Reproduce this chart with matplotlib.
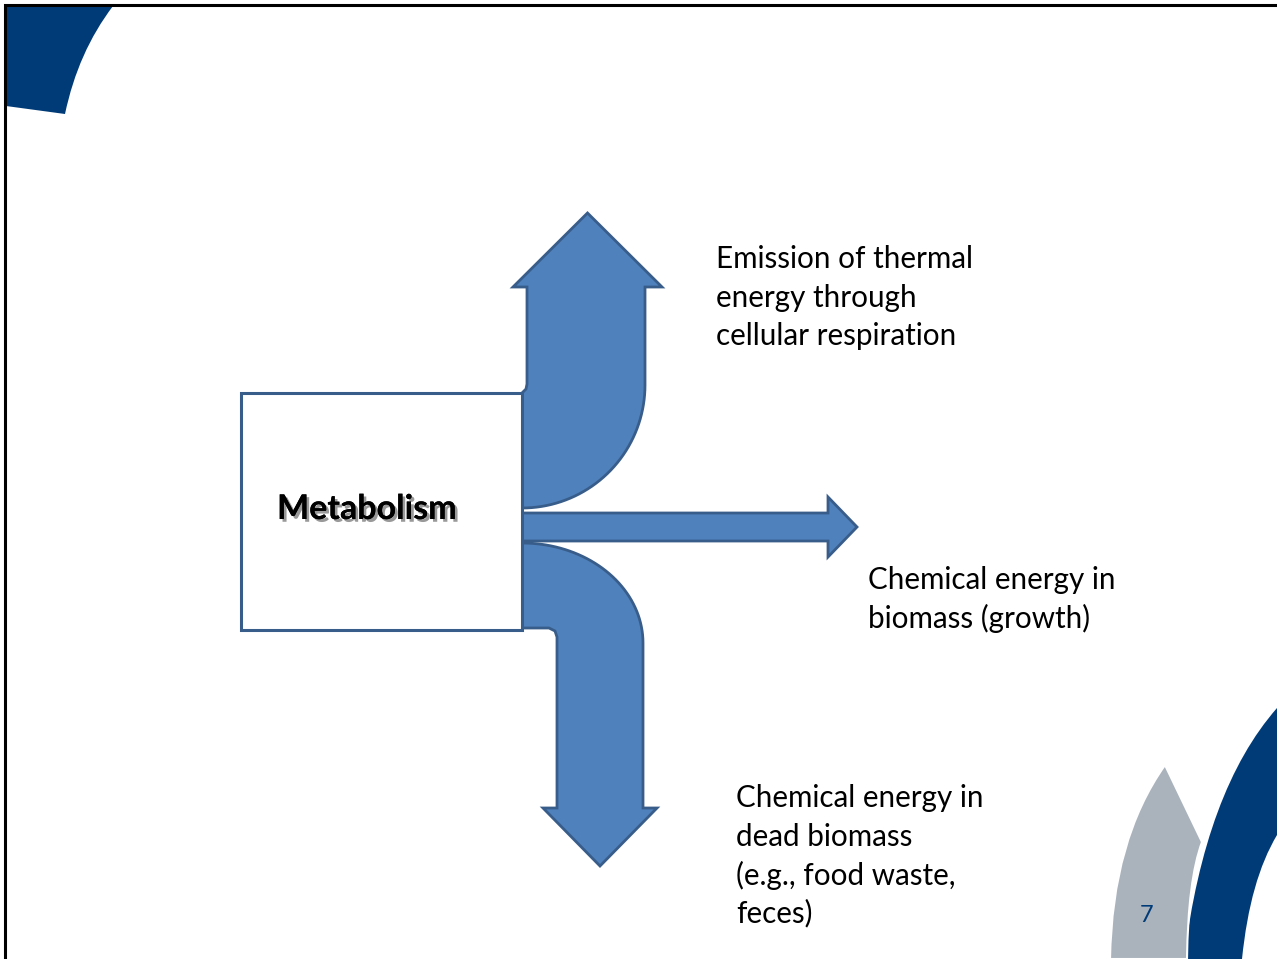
import numpy as np
import matplotlib.pyplot as plt
from matplotlib.path import Path
from matplotlib.patches import PathPatch, Rectangle
import matplotlib.patheffects as pe

plt.rcParams['font.family'] = ['Lato', 'DejaVu Sans']

# slide texts
label_box = "Metabolism"
label_up = ["Emission of thermal", "energy through", "cellular respiration"]
label_right = ["Chemical energy in", "biomass (growth)"]
label_down = ["Chemical energy in", "dead biomass", "(e.g., food waste,", "feces)"]
page_no = "7"

# shape anchors (slide pixels)
box = [241, 393, 522, 630]           # x0, y0, x1, y1
up_head = [513, 662, 287, 213]       # head x0, x1, base y, tip y
up_shaft = [527, 645]
right_shaft = [513, 541, 828]        # y0, y1, head base x
right_head = [497, 557, 857]
down_shaft = [557, 643]
down_head = [543, 657, 808, 866]

fill = "#4f81bd"
edge = "#385d8a"
navy = "#003b78"
grey = "#aab3bc"

fig = plt.figure(figsize=(12.77, 9.59), dpi=100)
ax = fig.add_axes([0, 0, 1, 1])
ax.set_xlim(0, 1277)
ax.set_ylim(959, 0)
ax.axis("off")


def arc(cx, cy, rx, ry, a0, a1, n=40):
    t = np.radians(np.linspace(a0, a1, n))
    return list(zip(cx + rx * np.cos(t), cy - ry * np.sin(t)))


def poly(pts, fc, ec, lw=2, z=2):
    ax.add_patch(plt.Polygon(pts, closed=True, fc=fc, ec=ec, lw=lw, zorder=z,
                             joinstyle="miter"))


# corner decorations
tl = Path([(6, 6), (113, 6), (78, 52), (65, 114), (6, 106), (6, 6)],
          [Path.MOVETO, Path.LINETO, Path.CURVE3, Path.CURVE3, Path.LINETO, Path.CLOSEPOLY])
ax.add_patch(PathPatch(tl, fc=navy, ec="none", zorder=1))
br = Path([(1277, 708), (1205, 790), (1184, 959), (1242, 959), (1250, 880), (1277, 835), (1277, 708)],
          [Path.MOVETO, Path.CURVE3, Path.CURVE3, Path.LINETO, Path.CURVE3, Path.CURVE3, Path.CLOSEPOLY])
ax.add_patch(PathPatch(br, fc=navy, ec="none", zorder=1))
gr = Path([(1165, 765), (1202, 842), (1188, 880), (1187, 959), (1110, 959), (1112, 840), (1165, 765)],
          [Path.MOVETO, Path.LINETO, Path.CURVE3, Path.CURVE3, Path.LINETO, Path.CURVE3, Path.CURVE3])
ax.add_patch(PathPatch(gr, fc=grey, ec="white", lw=1.5, zorder=2))
ax.text(1147, 915, page_no, fontsize=17, color=navy, ha="center", va="center", zorder=3)

# slide frame (top and left edges visible)
ax.plot([5, 5, 1277], [959, 5, 5], color="black", lw=2.2, zorder=5, solid_joinstyle="miter")

# up arrow
ux0, ux1, uby, uty = up_head
pts = [(box[2], 508)] + arc(box[2], 385, up_shaft[1] - box[2], 123, 270, 360)[1:]
pts += [(up_shaft[1], uby), (ux1, uby), ((ux0 + ux1) / 2, uty), (ux0, uby),
        (up_shaft[0], uby), (up_shaft[0], 384), (526, 389), (box[2], box[1])]
poly(pts, fill, edge)

# right arrow
ry0, ry1, rbx = right_shaft
hy0, hy1, htx = right_head
poly([(box[2], ry0), (rbx, ry0), (rbx, hy0), (htx, (hy0 + hy1) / 2),
      (rbx, hy1), (rbx, ry1), (box[2], ry1)], fill, edge)

# down arrow
dx0, dx1, dby, dty = down_head
pts = arc(box[2], 643, down_shaft[1] - box[2], 100, 90, 0)
pts += [(down_shaft[1], dby), (dx1, dby), ((dx0 + dx1) / 2, dty), (dx0, dby),
        (down_shaft[0], dby), (down_shaft[0], 637), (555, 631), (549, 628), (box[2], 628)]
poly(pts, fill, edge)

# metabolism box
ax.add_patch(Rectangle((box[0], box[1]), box[2] - box[0], box[3] - box[1],
                       fc="white", ec=edge, lw=2.2, zorder=4))
ax.text(277, 509, label_box, fontsize=24.5, fontweight="bold", color="black",
        ha="left", va="center", zorder=6,
        path_effects=[pe.withSimplePatchShadow(offset=(2, -2), alpha=0.4), pe.Normal()])

# captions
for lines, x, y0 in [(label_up, 716, 259), (label_right, 868, 580), (label_down, 736, 798)]:
    for i, s in enumerate(lines):
        ax.text(x, y0 + 38.5 * i, s, fontsize=21.3, color="black",
                ha="left", va="center", zorder=6)

fig.savefig("out.png", dpi=100)
